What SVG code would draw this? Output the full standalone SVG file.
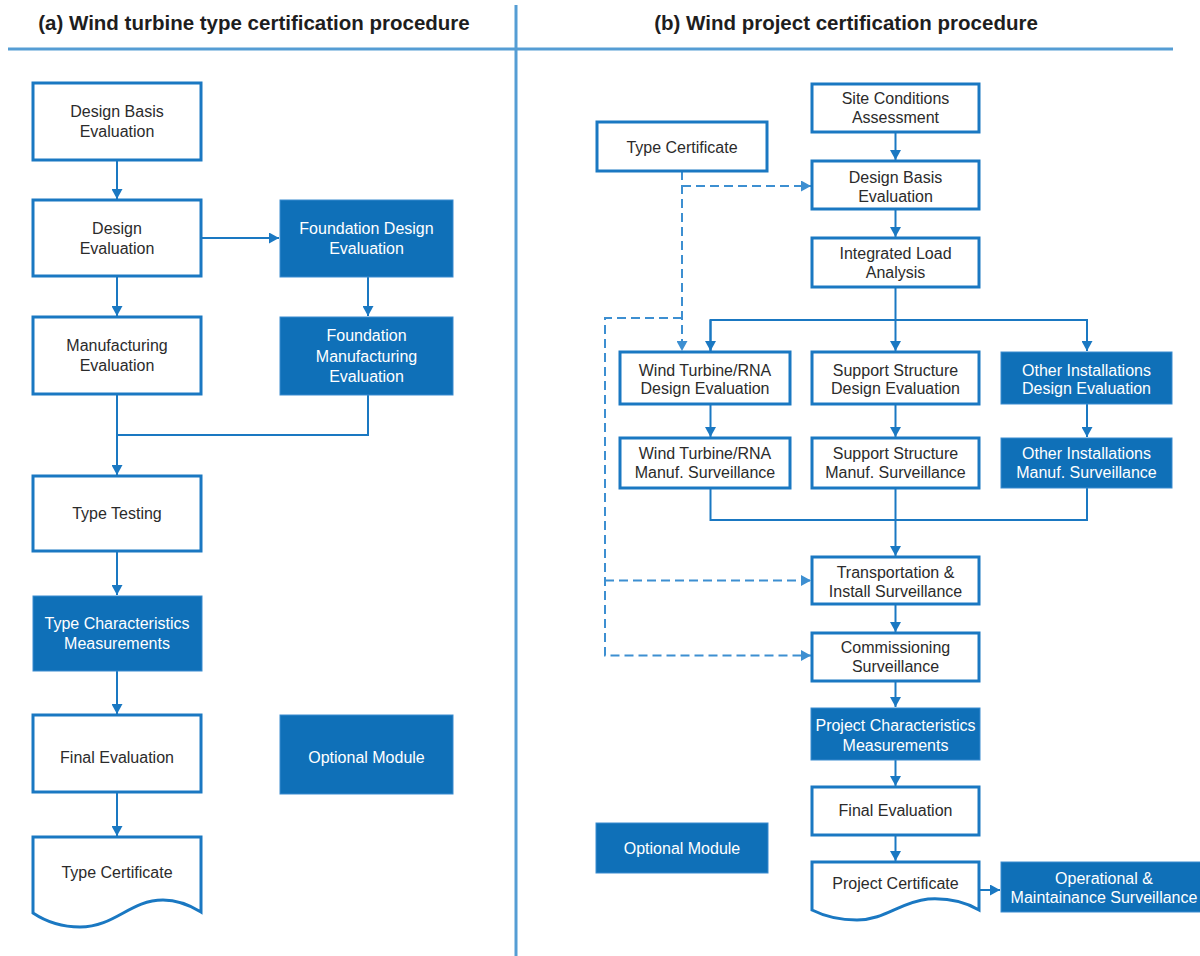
<svg xmlns="http://www.w3.org/2000/svg" width="1200" height="956" viewBox="0 0 1200 956">
<defs>
<style>
.box{fill:#fff;stroke:#1a78c2;stroke-width:3}
.opt{fill:#0f70b8;stroke:#3a8bd0;stroke-width:1}
.t{font-family:"Liberation Sans",Arial,sans-serif;font-size:16px;fill:#2b2b2b;text-anchor:middle}
.w{fill:#fff}
.h{font-family:"Liberation Sans",Arial,sans-serif;font-size:20.5px;font-weight:bold;fill:#1e1e1e;text-anchor:middle}
.ln{fill:none;stroke:#1a78c2;stroke-width:2}
.ds{fill:none;stroke:#3d8fd1;stroke-width:2;stroke-dasharray:9,5}
.frame{fill:none;stroke:#559dd4;stroke-width:3}
</style>
<marker id="ar" markerUnits="userSpaceOnUse" markerWidth="10" markerHeight="11" viewBox="0 0 10 11" refX="10" refY="5.5" orient="auto">
<path d="M0,0 L10,5.5 L0,11 Z" fill="#1a78c2"/>
</marker>
<marker id="ard" markerUnits="userSpaceOnUse" markerWidth="10" markerHeight="11" viewBox="0 0 10 11" refX="10" refY="5.5" orient="auto">
<path d="M0,0 L10,5.5 L0,11 Z" fill="#3d8fd1"/>
</marker>
</defs>
<rect width="1200" height="956" fill="#fff"/>
<g id="frame">
<line class="frame" x1="8" y1="49" x2="1173" y2="49"/>
<line class="frame" x1="516" y1="5" x2="516" y2="956"/>
<text class="h" x="254" y="30">(a) Wind turbine type certification procedure</text>
<text class="h" x="846" y="30">(b) Wind project certification procedure</text>
</g>
<g id="connectors">
<line class="ln" x1="117" y1="161" x2="117" y2="199" marker-end="url(#ar)"/>
<line class="ln" x1="201" y1="238" x2="279" y2="238" marker-end="url(#ar)"/>
<line class="ln" x1="117" y1="276" x2="117" y2="316" marker-end="url(#ar)"/>
<line class="ln" x1="368" y1="277" x2="368" y2="316" marker-end="url(#ar)"/>
<polyline class="ln" points="368,395 368,435 117,435"/>
<line class="ln" x1="117" y1="394" x2="117" y2="475" marker-end="url(#ar)"/>
<line class="ln" x1="117" y1="551" x2="117" y2="595" marker-end="url(#ar)"/>
<line class="ln" x1="117" y1="671" x2="117" y2="714" marker-end="url(#ar)"/>
<line class="ln" x1="117" y1="792" x2="117" y2="836" marker-end="url(#ar)"/>
<line class="ln" x1="895.5" y1="132" x2="895.5" y2="160" marker-end="url(#ar)"/>
<line class="ln" x1="895.5" y1="209" x2="895.5" y2="237" marker-end="url(#ar)"/>
<line class="ln" x1="895.5" y1="287" x2="895.5" y2="351" marker-end="url(#ar)"/>
<polyline class="ln" points="710.5,351 710.5,320 1087,320 1087,351" marker-end="url(#ar)"/>
<line class="ln" x1="710.5" y1="320" x2="710.5" y2="351" marker-end="url(#ar)"/>
<line class="ln" x1="710.5" y1="404" x2="710.5" y2="437" marker-end="url(#ar)"/>
<line class="ln" x1="895.5" y1="404" x2="895.5" y2="437" marker-end="url(#ar)"/>
<line class="ln" x1="1087" y1="404" x2="1087" y2="437" marker-end="url(#ar)"/>
<polyline class="ln" points="710.5,488 710.5,520 1087,520 1087,488"/>
<line class="ln" x1="895.5" y1="488" x2="895.5" y2="556" marker-end="url(#ar)"/>
<line class="ln" x1="895.5" y1="604" x2="895.5" y2="632" marker-end="url(#ar)"/>
<line class="ln" x1="895.5" y1="681" x2="895.5" y2="707" marker-end="url(#ar)"/>
<line class="ln" x1="895.5" y1="760" x2="895.5" y2="786" marker-end="url(#ar)"/>
<line class="ln" x1="895.5" y1="835" x2="895.5" y2="861" marker-end="url(#ar)"/>
<line class="ln" x1="980" y1="890" x2="1000" y2="890" marker-end="url(#ar)"/>
<line class="ds" x1="682" y1="171" x2="682" y2="351" marker-end="url(#ard)"/>
<polyline class="ds" points="682,186 811,186" marker-end="url(#ard)"/>
<polyline class="ds" points="682,318 605,318 605,655.5 811,655.5" marker-end="url(#ard)"/>
<line class="ds" x1="605" y1="580.5" x2="811" y2="580.5" marker-end="url(#ard)"/>
</g>
<g id="a-design-basis"><rect class="box" x="33" y="83" width="168" height="77"/><text class="t" x="117" y="117">Design Basis</text><text class="t" x="117" y="137">Evaluation</text></g>
<g id="a-design-eval"><rect class="box" x="33" y="200" width="168" height="76"/><text class="t" x="117" y="234">Design</text><text class="t" x="117" y="254">Evaluation</text></g>
<g id="a-foundation-design"><rect class="opt" x="280" y="200" width="173" height="77"/><text class="t w" x="366.5" y="234">Foundation Design</text><text class="t w" x="366.5" y="254">Evaluation</text></g>
<g id="a-manufacturing"><rect class="box" x="33" y="317" width="168" height="77"/><text class="t" x="117" y="351">Manufacturing</text><text class="t" x="117" y="371">Evaluation</text></g>
<g id="a-foundation-manuf"><rect class="opt" x="280" y="317" width="173" height="78"/><text class="t w" x="366.5" y="341">Foundation</text><text class="t w" x="366.5" y="361.5">Manufacturing</text><text class="t w" x="366.5" y="382">Evaluation</text></g>
<g id="a-type-testing"><rect class="box" x="33" y="476" width="168" height="75"/><text class="t" x="117" y="519">Type Testing</text></g>
<g id="a-type-char"><rect class="opt" x="33" y="596" width="169" height="75"/><text class="t w" x="117" y="629">Type Characteristics</text><text class="t w" x="117" y="649">Measurements</text></g>
<g id="a-final"><rect class="box" x="33" y="715" width="168" height="77"/><text class="t" x="117" y="763">Final Evaluation</text></g>
<g id="a-optional"><rect class="opt" x="280" y="715" width="173" height="79"/><text class="t w" x="366.5" y="763">Optional Module</text></g>
<g id="a-type-cert"><path class="box" d="M33,837 H201 V912 C188,904 176,900 163,900 C130,900 115,927 80,927 C60,927 45,921 33,913 Z"/><text class="t" x="117" y="878">Type Certificate</text></g>
<g id="b-type-cert"><rect class="box" x="597" y="122" width="170" height="49"/><text class="t" x="682" y="153">Type Certificate</text></g>
<g id="b-site"><rect class="box" x="812" y="84" width="167" height="48"/><text class="t" x="895.5" y="104">Site Conditions</text><text class="t" x="895.5" y="123">Assessment</text></g>
<g id="b-design-basis"><rect class="box" x="812" y="161" width="167" height="48"/><text class="t" x="895.5" y="183">Design Basis</text><text class="t" x="895.5" y="202">Evaluation</text></g>
<g id="b-load"><rect class="box" x="812" y="238" width="167" height="49"/><text class="t" x="895.5" y="259">Integrated Load</text><text class="t" x="895.5" y="278">Analysis</text></g>
<g id="b-wt-design"><rect class="box" x="620" y="352" width="170" height="52"/><text class="t" x="705" y="375.5">Wind Turbine/RNA</text><text class="t" x="705" y="394">Design Evaluation</text></g>
<g id="b-ss-design"><rect class="box" x="812" y="352" width="167" height="52"/><text class="t" x="895.5" y="375.5">Support Structure</text><text class="t" x="895.5" y="394">Design Evaluation</text></g>
<g id="b-oi-design"><rect class="opt" x="1001" y="352" width="171" height="52"/><text class="t w" x="1086.5" y="375.5">Other Installations</text><text class="t w" x="1086.5" y="394">Design Evaluation</text></g>
<g id="b-wt-manuf"><rect class="box" x="620" y="438" width="170" height="50"/><text class="t" x="705" y="459">Wind Turbine/RNA</text><text class="t" x="705" y="478">Manuf. Surveillance</text></g>
<g id="b-ss-manuf"><rect class="box" x="812" y="438" width="167" height="50"/><text class="t" x="895.5" y="459">Support Structure</text><text class="t" x="895.5" y="478">Manuf. Surveillance</text></g>
<g id="b-oi-manuf"><rect class="opt" x="1001" y="438" width="171" height="50"/><text class="t w" x="1086.5" y="459">Other Installations</text><text class="t w" x="1086.5" y="478">Manuf. Surveillance</text></g>
<g id="b-transport"><rect class="box" x="812" y="557" width="167" height="47"/><text class="t" x="895.5" y="578">Transportation &amp;</text><text class="t" x="895.5" y="597">Install Surveillance</text></g>
<g id="b-commission"><rect class="box" x="812" y="633" width="167" height="48"/><text class="t" x="895.5" y="653">Commissioning</text><text class="t" x="895.5" y="672">Surveillance</text></g>
<g id="b-proj-char"><rect class="opt" x="811" y="708" width="169" height="52"/><text class="t w" x="895.5" y="730.5">Project Characteristics</text><text class="t w" x="895.5" y="750.5">Measurements</text></g>
<g id="b-final"><rect class="box" x="812" y="787" width="167" height="48"/><text class="t" x="895.5" y="816">Final Evaluation</text></g>
<g id="b-optional"><rect class="opt" x="596" y="823" width="172" height="50"/><text class="t w" x="682" y="854">Optional Module</text></g>
<g id="b-proj-cert"><path class="box" d="M812,862 H979 V910 C962,900 945,898 928,899 C900,902 885,920 857,920 C835,920 822,915 812,910 Z"/><text class="t" x="895.5" y="889">Project Certificate</text></g>
<g id="b-operational"><rect class="opt" x="1001" y="862" width="206" height="50"/><text class="t w" x="1104" y="883.5">Operational &amp;</text><text class="t w" x="1104" y="902.5">Maintainance Surveillance</text></g>
</svg>
